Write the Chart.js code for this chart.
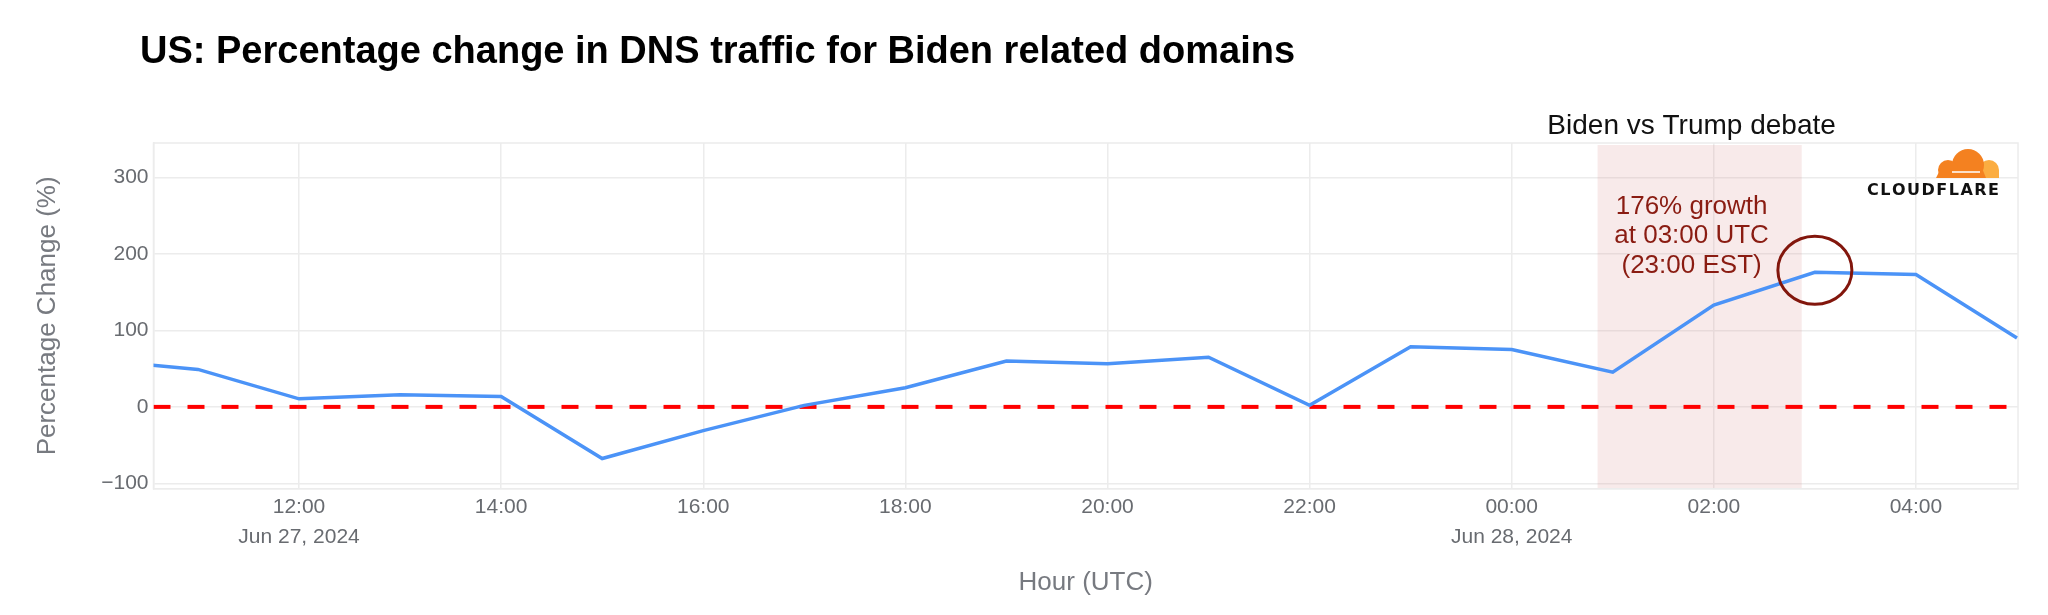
<!DOCTYPE html>
<html>
<head>
<meta charset="utf-8">
<script src="https://cdn.jsdelivr.net/npm/chart.js@4.4.1/dist/chart.umd.min.js"></script>
<style>
  html, body { margin: 0; padding: 0; background: #fff; }
</style>
</head>
<body>
<canvas id="dnsChart" width="2048" height="615"></canvas>
<script>
// hours counted from Jun 27, 2024 00:00 UTC
var hours = [10, 11, 12, 13, 14, 15, 16, 17, 18, 19, 20, 21, 22, 23, 24, 25, 26, 27, 28, 29];
var pctChange = [61, 49, 10.5, 16, 13.5, -67.5, -31, 2, 25, 60, 56.5, 65, 2, 78.5, 75, 45.5, 133, 176, 173, 90];
var xTicks = [12, 14, 16, 18, 20, 22, 24, 26, 28];
var yTicks = [-100, 0, 100, 200, 300];
var xRange = [10.56, 29.01];
var yRange = [-107, 345];
var debateWindow = [24.85, 26.87];
var peak = { hour: 27, value: 176 };
var dateLabels = { 12: 'Jun 27, 2024', 24: 'Jun 28, 2024' };

var FONT = '"Liberation Sans", Arial, Helvetica, sans-serif';
var GRID = '#ececec';

function hourLabel(v) {
	var h = ((v % 24) + 24) % 24;
	var s = (h < 10 ? '0' : '') + h + ':00';
	return dateLabels[v] ? [s, dateLabels[v]] : s;
}

var extras = {
	id: 'extras',
	beforeDatasetsDraw: function (chart) {
		var ctx = chart.ctx, a = chart.chartArea, x = chart.scales.x;
		ctx.save();
		// debate window shading
		var x0 = x.getPixelForValue(debateWindow[0]);
		var x1 = x.getPixelForValue(debateWindow[1]);
		ctx.fillStyle = 'rgba(220,150,150,0.2)';
		ctx.fillRect(x0, a.top + 2, x1 - x0, a.bottom - a.top - 2);
		// plot frame
		ctx.strokeStyle = GRID;
		ctx.lineWidth = 1.5;
		ctx.strokeRect(a.left, a.top, a.right - a.left, a.bottom - a.top);
		ctx.restore();
	},
	afterDatasetsDraw: function (chart) {
		var ctx = chart.ctx, a = chart.chartArea, x = chart.scales.x, y = chart.scales.y;
		ctx.save();

		// title
		ctx.fillStyle = '#000';
		ctx.font = 'bold 38px ' + FONT;
		ctx.textAlign = 'left';
		ctx.textBaseline = 'middle';
		ctx.fillText('US: Percentage change in DNS traffic for Biden related domains', 140, 53);

		// debate label above the shaded window
		var cx = x.getPixelForValue(25.78);
		ctx.textAlign = 'center';
		ctx.font = '28px ' + FONT;
		ctx.fillStyle = '#111';
		ctx.fillText('Biden vs Trump debate', cx, a.top - 17);

		// annotation text
		ctx.fillStyle = '#8a1c12';
		ctx.font = '26px ' + FONT;
		var ty = y.getPixelForValue(262);
		['176% growth', 'at 03:00 UTC', '(23:00 EST)'].forEach(function (t, i) {
			ctx.fillText(t, cx, ty + i * 29.8);
		});

		// circle round the peak
		ctx.strokeStyle = '#82160c';
		ctx.lineWidth = 3;
		ctx.beginPath();
		ctx.ellipse(x.getPixelForValue(peak.hour), y.getPixelForValue(peak.value) - 2, 37, 34, 0, 0, Math.PI * 2);
		ctx.stroke();

		// cloudflare logo
		var rx = a.right - 19, by = a.top + 35;
		ctx.save();
		ctx.beginPath();
		ctx.rect(rx - 70, by - 40, 80, 40);
		ctx.clip();
		ctx.fillStyle = '#fbad41';
		ctx.beginPath();
		ctx.arc(rx - 10, by - 8, 10, 0, Math.PI * 2);
		ctx.fill();
		ctx.fillRect(rx - 20, by - 8, 20, 8);
		ctx.fillStyle = '#f48120';
		ctx.beginPath();
		ctx.arc(rx - 31, by - 13, 16, 0, Math.PI * 2);
		ctx.fill();
		ctx.beginPath();
		ctx.arc(rx - 51, by - 8, 10, 0, Math.PI * 2);
		ctx.fill();
		ctx.beginPath();
		ctx.moveTo(rx - 63, by);
		ctx.lineTo(rx - 58, by - 10);
		ctx.lineTo(rx - 17, by - 10);
		ctx.lineTo(rx - 13, by);
		ctx.closePath();
		ctx.fill();
		ctx.strokeStyle = '#fff';
		ctx.lineWidth = 1.5;
		ctx.beginPath();
		ctx.moveTo(rx - 47, by - 6);
		ctx.lineTo(rx - 19, by - 6);
		ctx.stroke();
		ctx.restore();

		ctx.font = 'bold 16px "DejaVu Sans", sans-serif';
		ctx.fillStyle = '#111';
		ctx.textAlign = 'left';
		var word = 'CLOUDFLARE', total = 0;
		for (var i = 0; i < word.length; i++) total += ctx.measureText(word[i]).width;
		var gap = (132 - total) / (word.length - 1), px = rx - 132;
		for (var j = 0; j < word.length; j++) {
			ctx.fillText(word[j], px, by + 13);
			px += ctx.measureText(word[j]).width + gap;
		}
		ctx.restore();
	}
};

var ctx = document.getElementById('dnsChart');
var dnsChart = new Chart(ctx, {
	type: 'line',
	data: {
		datasets: [
			{
				label: 'Biden related domains',
				data: hours.map(function (h, i) { return { x: h, y: pctChange[i] }; }),
				borderColor: '#4b93f7',
				borderWidth: 3.5,
				pointRadius: 0,
				tension: 0,
			},
			{
				label: 'baseline',
				data: [{ x: xRange[0], y: 0 }, { x: xRange[1], y: 0 }],
				borderColor: '#ff0000',
				borderWidth: 4,
				borderDash: [17, 17],
				pointRadius: 0,
			},
		],
	},
	options: {
		responsive: false,
		animation: false,
		layout: {
			padding: { top: 143, right: 30, bottom: 17, left: 20 },
		},
		plugins: {
			legend: { display: false },
			tooltip: { enabled: false },
		},
		scales: {
			x: {
				type: 'linear',
				min: xRange[0],
				max: xRange[1],
				afterBuildTicks: function (s) {
					s.ticks = xTicks.map(function (v) { return { value: v }; });
				},
				grid: { color: GRID, lineWidth: 1.5, drawTicks: false },
				border: { color: GRID, width: 1.5 },
				ticks: {
					padding: 3,
					autoSkip: false,
					maxRotation: 0,
					color: '#686b70',
					font: { family: FONT, size: 21, lineHeight: 1.43 },
					callback: function (v) { return hourLabel(v); },
				},
				title: {
					display: true,
					text: 'Hour (UTC)',
					color: '#777a80',
					font: { family: FONT, size: 26 },
					padding: { top: 12, bottom: 0 },
				},
			},
			y: {
				min: yRange[0],
				max: yRange[1],
				afterBuildTicks: function (s) {
					s.ticks = yTicks.map(function (v) { return { value: v }; });
				},
				grid: { color: GRID, lineWidth: 1.5, drawTicks: false },
				border: { color: GRID, width: 1.5 },
				ticks: {
					padding: 5,
					color: '#686b70',
					font: { family: FONT, size: 21 },
					callback: function (v) { return v < 0 ? '\u2212' + Math.abs(v) : String(v); },
				},
				title: {
					display: true,
					text: 'Percentage Change (%)',
					color: '#777a80',
					font: { family: FONT, size: 26 },
					padding: { top: 12, bottom: 33 },
				},
			},
		},
	},
	plugins: [extras],
});
</script>
</body>
</html>
